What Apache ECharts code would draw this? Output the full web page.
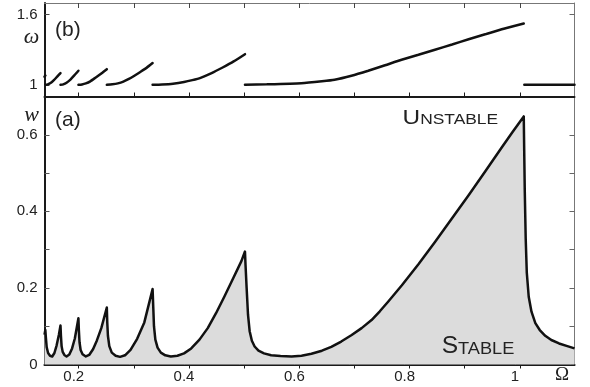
<!DOCTYPE html>
<html><head><meta charset="utf-8">
<script src="https://cdn.jsdelivr.net/npm/echarts@6/dist/echarts.min.js"></script>
<style>html,body{margin:0;padding:0;background:#fff}#c{width:590px;height:387px}</style>
</head><body><div id="c"></div>
<script>
// Bottom panel (a): threshold amplitude w vs Omega
const wX = [0.147,0.1485,0.1495,0.151,0.1535,0.157,0.161,0.165,0.169,0.173,0.176,
 0.1768,0.178,0.18,0.183,0.187,0.192,0.197,0.202,0.2085,
 0.2093,0.2105,0.2125,0.216,0.222,0.228,0.235,0.242,0.25,0.26,
 0.2608,0.262,0.2645,0.269,0.276,0.284,0.293,0.303,0.315,0.328,0.343,
 0.3442,0.3455,0.348,0.352,0.358,0.366,0.376,0.388,0.4,0.413,0.428,0.443,0.458,0.473,0.49,0.504,0.5105,
 0.5115,0.5135,0.516,0.519,0.523,0.528,0.535,0.545,0.558,0.575,0.595,0.613,0.631,0.65,0.667,0.685,0.704,0.722,0.74,0.755,0.77,0.795,0.825,0.855,0.885,0.916,0.946,0.976,0.996,1.016,
 1.0168,1.0178,1.0195,1.0215,1.025,1.03,1.037,1.045,1.055,1.066,1.08,1.095,1.108];
const wY = [0.078,0.09,0.07,0.045,0.03,0.023,0.021,0.03,0.05,0.077,0.102,
 0.075,0.048,0.033,0.025,0.021,0.026,0.042,0.068,0.121,
 0.09,0.058,0.038,0.027,0.021,0.025,0.04,0.063,0.095,0.149,
 0.11,0.075,0.048,0.031,0.023,0.02,0.024,0.038,0.067,0.11,0.197,
 0.15,0.1,0.065,0.044,0.031,0.024,0.021,0.023,0.029,0.042,0.065,0.095,0.134,0.177,0.228,0.27,0.295,
 0.26,0.2,0.13,0.087,0.062,0.047,0.036,0.029,0.024,0.022,0.021,0.023,0.028,0.036,0.046,0.06,0.077,0.095,0.116,0.139,0.164,0.207,0.262,0.32,0.38,0.442,0.504,0.567,0.608,0.648,
 0.56,0.456,0.33,0.24,0.177,0.138,0.108,0.09,0.075,0.064,0.055,0.048,0.042];

// Top panel (b): omega vs Omega, segments separated by null
const omX = [0.147,0.1485,null,
 0.1485,0.153,0.158,0.164,0.17,0.176,null,
 0.176,0.181,0.187,0.194,0.201,0.2085,null,
 0.2085,0.215,0.222,0.23,0.24,0.25,0.26,null,
 0.26,0.27,0.28,0.29,0.3,0.31,0.32,0.332,0.343,null,
 0.343,0.36,0.38,0.4,0.415,0.43,0.45,0.47,0.49,0.5105,null,
 0.5105,0.55,0.6127,0.65,0.673,0.7036,0.734,0.7645,0.7945,0.825,0.855,0.886,0.916,0.946,0.976,1.016,null,
 1.017,1.108];
const omY = [1.07,1.08,null,
 1.0,1.004,1.015,1.04,1.07,1.1,null,
 1.0,1.004,1.018,1.045,1.08,1.12,null,
 1.0,1.003,1.012,1.03,1.063,1.097,1.134,null,
 1.0,1.004,1.012,1.027,1.05,1.078,1.108,1.145,1.186,null,
 1.0,1.003,1.01,1.024,1.04,1.06,1.1,1.148,1.2,1.262,null,
 1.0,1.004,1.014,1.03,1.043,1.077,1.12,1.167,1.214,1.257,1.3,1.345,1.39,1.432,1.475,1.525,null,
 1.0,1.0];

const xTicks = [0.2,0.3,0.4,0.5,0.6,0.7,0.8,0.9,1.0,1.1];
const xLabels = [0.2,0.4,0.6,0.8,1];
const topTicks = [0.2,0.3,0.4,0.5,0.6,0.7,0.8,0.9,1.0];
const wLabels = [0,0.2,0.4,0.6];
const omLabels = [1,1.6];

const X_MIN = 0.147, X_MAX = 1.108, SHIFT = 0.009;
const FONT = '"Liberation Sans", Arial, sans-serif';
const SERIF = '"Liberation Serif", "Times New Roman", serif';

const segs = [];
let cur = [];
omX.forEach((x,i)=>{ if (x===null){ if(cur.length) segs.push(cur); cur=[]; } else cur.push([x, omY[i]]); });
if (cur.length) segs.push(cur);

const dark = '#1a1a1a', gray = '#777';
function xAx(o){ return Object.assign({type:'value', splitLine:{show:false}, axisLabel:{show:false}, axisTick:{show:false}}, o); }
function yAx(o){ return Object.assign({type:'value', splitLine:{show:false}, axisLabel:{show:false}, axisTick:{show:false}}, o); }

const option = {
  animation:false,
  grid:[
    {left:44.5, right:15.5, top:3, height:93.5},
    {left:44.5, right:15.5, top:96.5, height:268}
  ],
  xAxis:[
    xAx({gridIndex:0, position:'bottom', min:X_MIN-SHIFT, max:X_MAX-SHIFT,
      axisLine:{lineStyle:{color:dark,width:2}},
      axisTick:{show:true, inside:true, length:4, customValues:topTicks, lineStyle:{color:dark,width:1}}}),
    xAx({gridIndex:0, position:'top', min:X_MIN-SHIFT, max:X_MAX-SHIFT,
      axisLine:{lineStyle:{color:gray,width:1}},
      axisTick:{show:true, inside:true, length:5, customValues:topTicks, lineStyle:{color:'#444',width:1}}}),
    xAx({gridIndex:0, show:false, min:X_MIN, max:X_MAX}),
    xAx({gridIndex:1, position:'bottom', min:X_MIN, max:X_MAX,
      axisLine:{lineStyle:{color:dark,width:1.5}},
      axisTick:{show:true, inside:true, length:4, customValues:xTicks, lineStyle:{color:'#444',width:1}},
      axisLabel:{show:true, customValues:xLabels, margin:5, fontFamily:FONT, fontSize:15, color:'#222',
        formatter:v=> (Math.abs(v-1)<1e-9 ? '1' : String(+v.toFixed(1)))}}),
    xAx({gridIndex:1, position:'top', min:X_MIN-SHIFT, max:X_MAX-SHIFT,
      axisLine:{lineStyle:{color:dark,width:2}},
      axisTick:{show:true, inside:true, length:4, customValues:topTicks, lineStyle:{color:dark,width:1}}})
  ],
  yAxis:[
    yAx({gridIndex:0, position:'left', min:0.9, max:1.7,
      axisLine:{lineStyle:{color:dark,width:2}},
      axisTick:{show:true, inside:true, length:5, customValues:omLabels, lineStyle:{color:'#444',width:1}},
      axisLabel:{show:true, customValues:omLabels, margin:7, fontFamily:FONT, fontSize:15, color:'#222',
        formatter:v=> String(+v.toFixed(1))}}),
    yAx({gridIndex:0, position:'right', min:0.9, max:1.7,
      axisLine:{lineStyle:{color:gray,width:1}},
      axisTick:{show:true, inside:true, length:5, customValues:[1.6], lineStyle:{color:'#666',width:1}}}),
    yAx({gridIndex:1, position:'left', min:0, max:0.7,
      axisLine:{lineStyle:{color:dark,width:2}},
      axisTick:{show:true, inside:true, length:5, customValues:[0.1,0.2,0.3,0.4,0.5,0.6], lineStyle:{color:'#555',width:1}},
      axisLabel:{show:true, customValues:wLabels, margin:7, fontFamily:FONT, fontSize:15, color:'#222',
        formatter:v=> String(+v.toFixed(1))}}),
    yAx({gridIndex:1, position:'right', min:0, max:0.7,
      axisLine:{lineStyle:{color:gray,width:1}},
      axisTick:{show:true, inside:true, length:5, customValues:[0.1,0.2,0.3,0.4,0.5,0.6], lineStyle:{color:'#666',width:1}}})
  ],
  series:[
    {type:'line', xAxisIndex:3, yAxisIndex:2, symbol:'none', smooth:false,
      data: wX.map((x,i)=>[x,wY[i]]),
      lineStyle:{color:'#111', width:2.5, join:'round'},
      areaStyle:{color:'#dcdcdc', opacity:1}, z:2}
  ].concat(segs.map(s=>({type:'line', xAxisIndex:2, yAxisIndex:0, symbol:'none', data:s, smooth:0.2,
      lineStyle:{color:'#111', width:2.5, cap:'round'}}))),
  graphic:[
    {type:'text', z:100, x:31.5, y:37, style:{text:'ω', font:'italic 22px '+SERIF, fill:'#222', textAlign:'center', textVerticalAlign:'middle'}},
    {type:'text', z:100, x:31.5, y:115, style:{text:'w', font:'italic 22px '+SERIF, fill:'#222', textAlign:'center', textVerticalAlign:'middle'}},
    {type:'text', z:100, x:562, y:375, style:{text:'Ω', font:'19px '+SERIF, fill:'#222', textAlign:'center', textVerticalAlign:'middle'}},
    {type:'text', z:100, x:55, y:30, style:{text:'(b)', font:'21px '+FONT, fill:'#222', textAlign:'left', textVerticalAlign:'middle'}},
    {type:'text', z:100, x:55, y:120, style:{text:'(a)', font:'21px '+FONT, fill:'#222', textAlign:'left', textVerticalAlign:'middle'}},
    {type:'group', z:100, x:402.5, y:0, scaleX:1.16, children:[
      {type:'text', z:100, x:0, y:118.2, style:{text:'U', font:'21px '+FONT, fill:'#222', textAlign:'left', textVerticalAlign:'middle'}},
      {type:'text', z:100, x:15.2, y:120.3, style:{text:'NSTABLE', font:'15px '+FONT, fill:'#222', textAlign:'left', textVerticalAlign:'middle'}}
    ]},
    {type:'group', z:100, x:441.7, y:0, scaleX:1.07, children:[
      {type:'text', z:100, x:0, y:347, style:{text:'S', font:'23px '+FONT, fill:'#222', textAlign:'left', textVerticalAlign:'middle'}},
      {type:'text', z:100, x:15.3, y:349, style:{text:'TABLE', font:'17px '+FONT, fill:'#222', textAlign:'left', textVerticalAlign:'middle'}}
    ]}
  ]
};
const chart = echarts.init(document.getElementById('c'), null, {renderer:'canvas'});
chart.setOption(option);
</script></body></html>
